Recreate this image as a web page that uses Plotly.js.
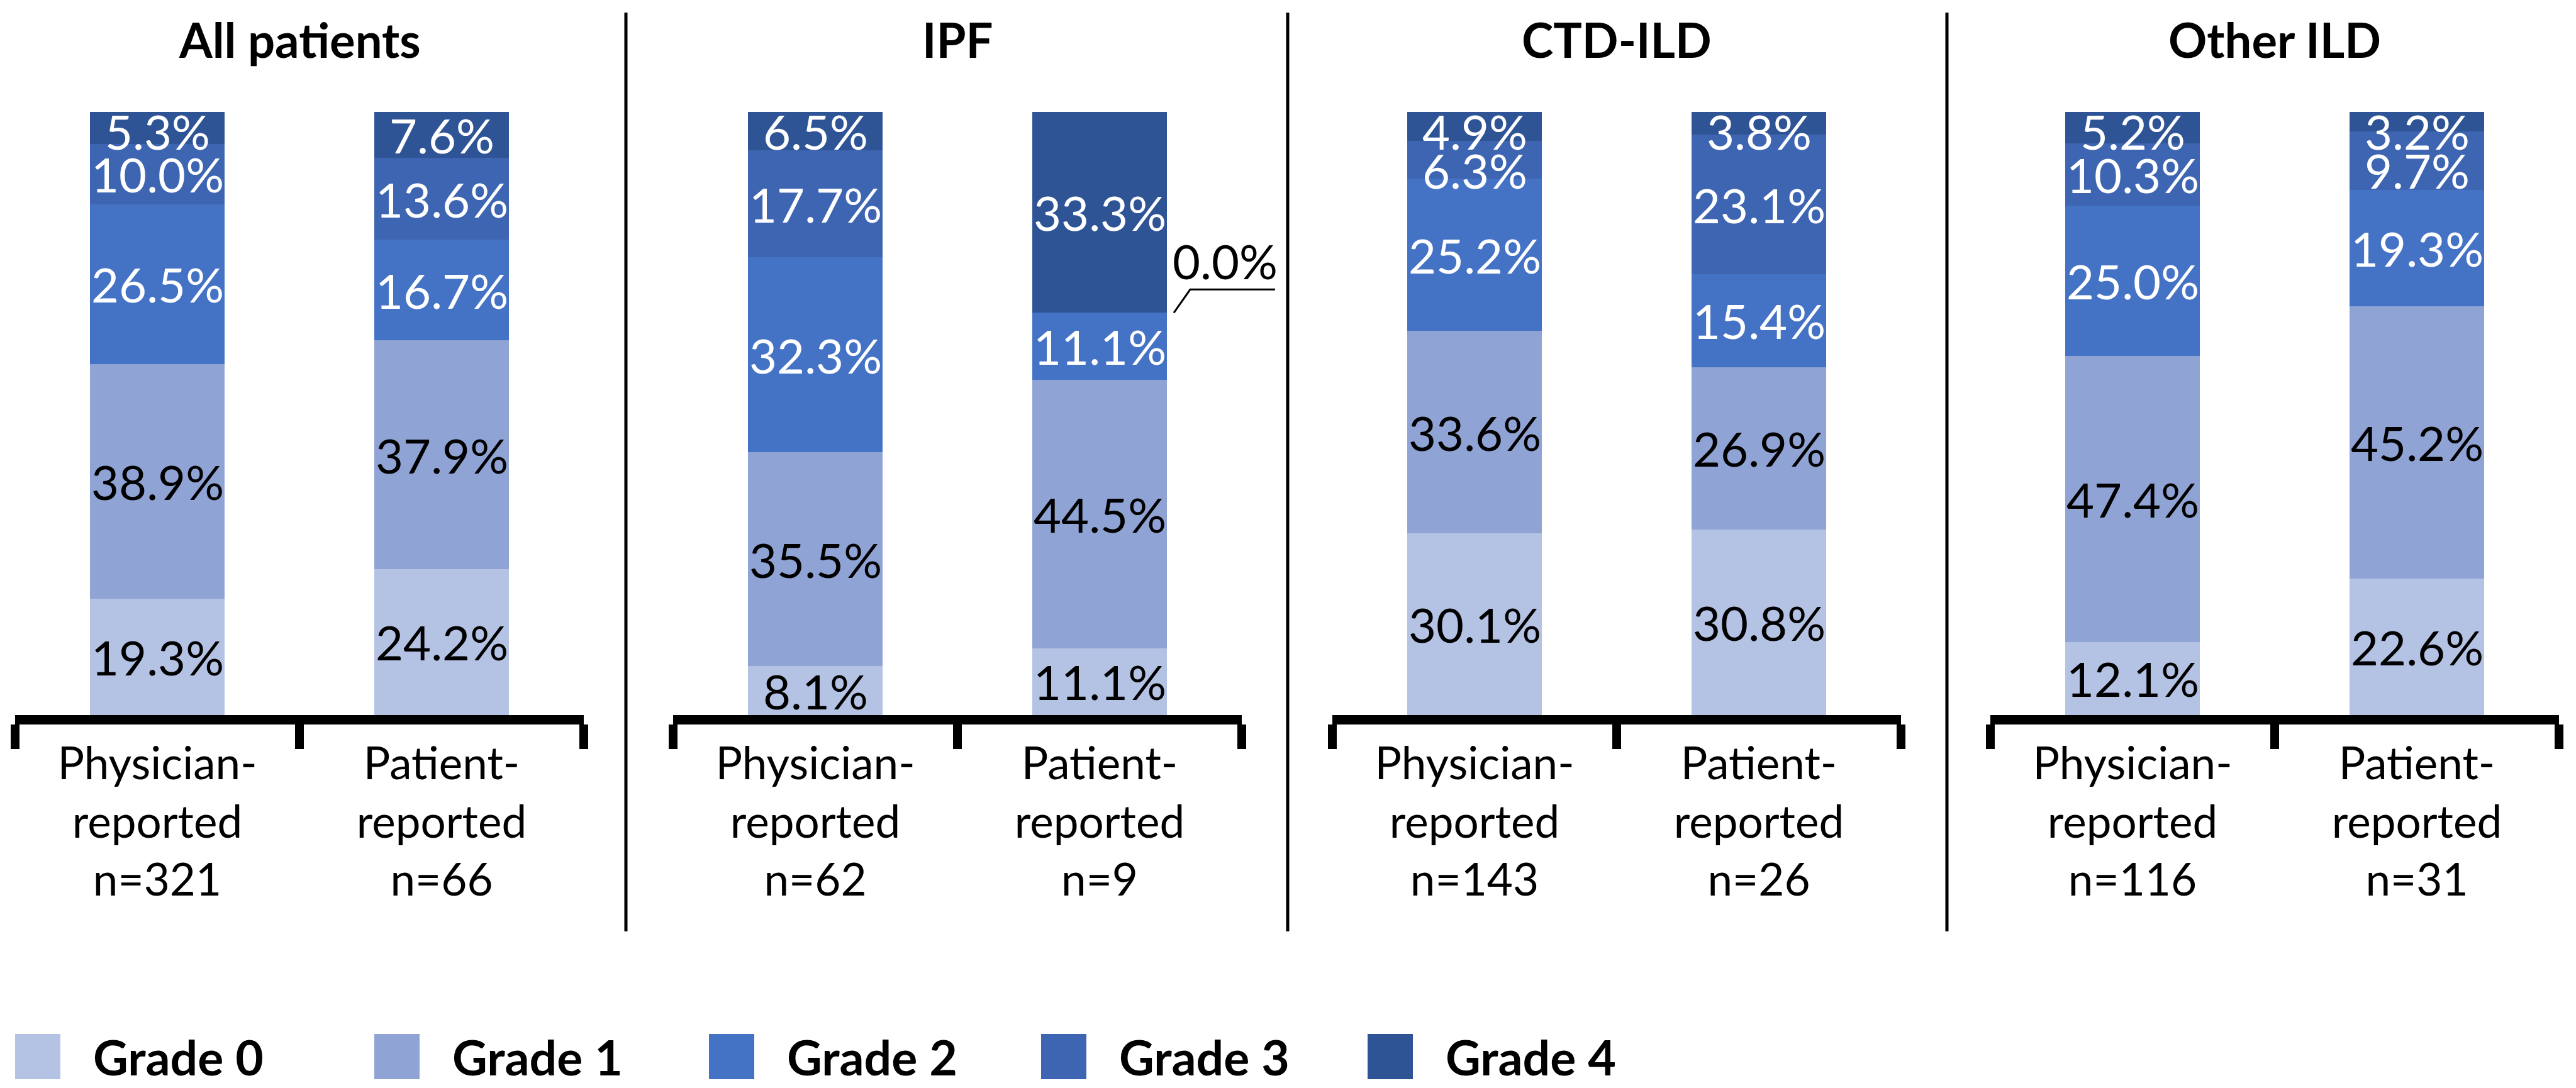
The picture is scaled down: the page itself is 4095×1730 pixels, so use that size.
<!DOCTYPE html>
<html><head><meta charset="utf-8">
<script src="https://cdn.plot.ly/plotly-3.0.1.min.js"></script>
<style>html,body{margin:0;padding:0;background:#fff}</style>
</head><body><div id="chart" style="width:4095px;height:1730px"></div>
<script>
// ---- data ----
const panels = ['All patients', 'IPF', 'CTD-ILD', 'Other ILD'];
const categories = [
  ['Physician-<br>reported<br>n=321', 'Patient-<br>reported<br>n=66'],
  ['Physician-<br>reported<br>n=62',  'Patient-<br>reported<br>n=9'],
  ['Physician-<br>reported<br>n=143', 'Patient-<br>reported<br>n=26'],
  ['Physician-<br>reported<br>n=116', 'Patient-<br>reported<br>n=31']
];
const grades = ['Grade 0', 'Grade 1', 'Grade 2', 'Grade 3', 'Grade 4'];
const grade0 = [[19.3, 24.2], [8.1, 11.1], [30.1, 30.8], [12.1, 22.6]];
const grade1 = [[38.9, 37.9], [35.5, 44.5], [33.6, 26.9], [47.4, 45.2]];
const grade2 = [[26.5, 16.7], [32.3, 11.1], [25.2, 15.4], [25.0, 19.3]];
const grade3 = [[10.0, 13.6], [17.7, 0.0], [6.3, 23.1], [10.3, 9.7]];
const grade4 = [[5.3, 7.6], [6.5, 33.3], [4.9, 3.8], [5.2, 3.2]];
const gradeValues = [grade0, grade1, grade2, grade3, grade4];

// ---- styles ----
const gradeColors = ['#b4c2e4', '#8fa3d5', '#4472c4', '#3e65b1', '#2f5496'];
const labelColors = ['#000000', '#000000', '#ffffff', '#ffffff', '#ffffff'];
const FONT = 'Lato, "Open Sans", sans-serif';
const W = 4095, H = 1730;
const px = v => v / W;
const py = v => 1 - v / H;

const panelStart = [24, 1070, 2118, 3164];
const panelWidth = 904;
const plotTop = 178, plotBottom = 1137;
const pxPerUnit = (plotBottom - plotTop) / 100;
const LABEL_BOX = 61;

const traces = [];
for (let p = 0; p < panels.length; p++) {
  const xa = p === 0 ? 'x' : 'x' + (p + 1);
  for (let g = 0; g < grades.length; g++) {
    traces.push({
      type: 'bar',
      name: grades[g],
      x: categories[p],
      y: gradeValues[g][p],
      xaxis: xa,
      yaxis: 'y',
      marker: {color: gradeColors[g], line: {width: 0}},
      textposition: 'none',
      hoverinfo: 'skip',
      showlegend: false
    });
  }
}

const layout = {
  width: W, height: H,
  margin: {l: 0, r: 0, t: 0, b: 0},
  barmode: 'stack',
  bargap: 0.525,
  paper_bgcolor: '#ffffff',
  plot_bgcolor: '#ffffff',
  showlegend: false,
  font: {family: FONT, color: '#000'},
  yaxis: {
    domain: [py(plotBottom), py(plotTop)],
    range: [0, 100],
    visible: false,
    fixedrange: true
  },
  shapes: [],
  annotations: []
};

for (let p = 0; p < panels.length; p++) {
  const key = p === 0 ? 'xaxis' : 'xaxis' + (p + 1);
  const xref = p === 0 ? 'x' : 'x' + (p + 1);
  layout[key] = {
    domain: [px(panelStart[p]), px(panelStart[p] + panelWidth)],
    type: 'category',
    range: [-0.5, 1.5],
    anchor: 'y',
    showline: true,
    linewidth: 15,
    linecolor: '#000',
    ticks: 'outside',
    tickson: 'boundaries',
    ticklen: 39,
    tickwidth: 14,
    tickcolor: '#000',
    showgrid: false,
    zeroline: false,
    tickfont: {family: FONT, size: 71, color: '#000'},
    ticklabelstandoff: 2,
    fixedrange: true
  };
  // panel title
  layout.annotations.push({
    text: '<b>' + panels[p] + '</b>',
    xref: 'paper', yref: 'paper',
    x: px(panelStart[p] + panelWidth / 2), y: py(63),
    xanchor: 'center', yanchor: 'middle',
    showarrow: false,
    font: {family: FONT, size: 76, color: '#000'}
  });
  // value labels: centred in each segment, nudged apart where segments are thin
  const topPad = 30 / pxPerUnit, minGap = (LABEL_BOX + 1) / pxPerUnit;
  for (let c = 0; c < 2; c++) {
    const centers = [];
    let cum = 0;
    for (let g = 0; g < grades.length; g++) {
      const v = gradeValues[g][p][c];
      centers.push(cum + v / 2);
      cum += v;
    }
    let prev = null;
    for (let g = grades.length - 1; g >= 0; g--) {
      const v = gradeValues[g][p][c];
      if (v === 0) continue;
      let yv = Math.min(centers[g], 100 - topPad);
      if (prev !== null) yv = Math.min(yv, prev - minGap);
      prev = yv;
      layout.annotations.push({
        text: v.toFixed(1) + '%',
        xref: xref, yref: 'y',
        x: c, y: yv,
        xanchor: 'center', yanchor: 'middle',
        height: LABEL_BOX, valign: 'middle',
        showarrow: false,
        font: {family: FONT, size: 76, color: labelColors[g]}
      });
    }
  }
}

// divider lines between panels
[995, 2047, 3095].forEach(xv => {
  layout.shapes.push({
    type: 'line', xref: 'paper', yref: 'paper',
    x0: px(xv), x1: px(xv), y0: py(20), y1: py(1481),
    line: {color: '#000', width: 5}
  });
});

// 0.0% label with leader line for IPF patient-reported Grade 3
const cumIPF = grade0[1][1] + grade1[1][1] + grade2[1][1];
const leaderRise = 37 / pxPerUnit;
layout.shapes.push({
  type: 'path', xref: 'paper', yref: 'y',
  path: `M ${px(1866)},${cumIPF} L ${px(1892)},${cumIPF + leaderRise} L ${px(2027)},${cumIPF + leaderRise}`,
  line: {color: '#000', width: 3}
});
layout.annotations.push({
  text: grade3[1][1].toFixed(1) + '%',
  xref: 'paper', yref: 'y',
  x: px(1947), y: cumIPF, yshift: 83,
  xanchor: 'center', yanchor: 'middle',
  showarrow: false,
  font: {family: FONT, size: 76, color: '#000'}
});

// custom legend
const legendX = [24, 595, 1127, 1655, 2174];
for (let g = 0; g < grades.length; g++) {
  layout.shapes.push({
    type: 'rect', xref: 'paper', yref: 'paper',
    x0: px(legendX[g]), x1: px(legendX[g] + 72),
    y0: py(1716), y1: py(1644),
    fillcolor: gradeColors[g], line: {width: 0}
  });
  layout.annotations.push({
    text: '<b>' + grades[g] + '</b>',
    xref: 'paper', yref: 'paper',
    x: px(legendX[g] + 122), y: py(1680),
    xanchor: 'left', yanchor: 'middle',
    showarrow: false,
    font: {family: FONT, size: 77, color: '#000'}
  });
}

Plotly.newPlot('chart', traces, layout, {staticPlot: true, displayModeBar: false});
</script>
</body></html>
